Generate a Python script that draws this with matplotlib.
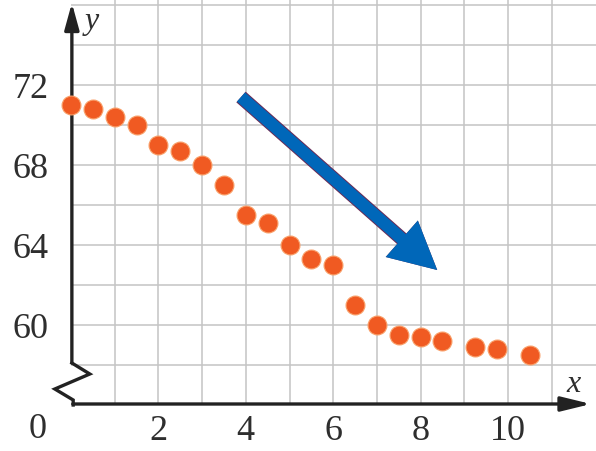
import matplotlib
matplotlib.use("Agg")
import matplotlib.pyplot as plt

# ---- data ----
x_vals = [0, 0.5, 1, 1.5, 2, 2.5, 3, 3.5, 4, 4.5, 5, 5.5, 6, 6.5, 7, 7.5, 8, 8.5, 9.25, 9.75, 10.5]
y_vals = [71.0, 70.8, 70.4, 70.0, 69.0, 68.7, 68.0, 67.0, 65.5, 65.1, 64.0, 63.3, 63.0, 61.0,
          60.0, 59.5, 59.4, 59.2, 58.9, 58.8, 58.5]
x_ticks = [2, 4, 6, 8, 10]
x_tick_labels = ["2", "4", "6", "8", "10"]
y_ticks = [60, 64, 68, 72]
y_tick_labels = ["60", "64", "68", "72"]
x_grid = [1, 2, 3, 4, 5, 6, 7, 8, 9, 10, 11]
y_grid = [58, 60, 62, 64, 66, 68, 70, 72, 74, 76]

# trend arrow (start / tip)
trend_start = (3.89, 71.4)
trend_end = (8.38, 62.75)

# axis break zigzag
zig_x = [0.02, 0.43, -0.37, 0.05, 0.05]
zig_y = [58.1, 57.55, 56.8, 56.25, 56.0]

serif = ["Liberation Serif", "DejaVu Serif"]
axis_col = "#222222"
dot_col = "#f05a22"
blue = "#0067b9"
text_col = "#2e2e2e"

fig = plt.figure(figsize=(5.96, 4.51), dpi=100)
fig.patch.set_facecolor("white")
ax = fig.add_axes([71 / 596, 46 / 451, 525 / 596, 405 / 451])
ax.set_xlim(0, 525 / 43.7)
ax.set_ylim(56, 56 + 405 / 20)
for s in ax.spines.values():
    s.set_visible(False)

# grid
for gx in x_grid:
    ax.axvline(gx, color="#c4c4c4", lw=1.1, zorder=1)
for gy in y_grid:
    ax.axhline(gy, color="#c4c4c4", lw=1.1, zorder=1)

# ticks
ax.set_xticks(x_ticks)
ax.set_xticklabels(x_tick_labels)
ax.set_yticks(y_ticks)
ax.set_yticklabels(y_tick_labels)
ax.tick_params(length=0, labelsize=26, colors=text_col)
ax.tick_params(axis="y", pad=16)
ax.tick_params(axis="x", pad=7)
for lab in ax.get_xticklabels() + ax.get_yticklabels():
    lab.set_family(serif)

ax.text(-0.755, 55.6, "0", fontsize=26, family=serif,
        color=text_col, ha="center", va="top")

# axes lines
ax.plot(zig_x, zig_y, color=axis_col, lw=2.4, clip_on=False, zorder=5,
        solid_joinstyle="miter")
ax.annotate("", xy=(0.02, 76.1), xytext=(0.02, 58.1),
            arrowprops=dict(arrowstyle="-|>,head_length=0.8,head_width=0.22",
                            lw=2.4, color=axis_col, mutation_scale=20,
                            shrinkA=0, shrinkB=0), annotation_clip=False, zorder=5)
ax.annotate("", xy=(11.9, 56.05), xytext=(0.04, 56.05),
            arrowprops=dict(arrowstyle="-|>,head_length=0.9,head_width=0.22",
                            lw=2.4, color=axis_col, mutation_scale=20,
                            shrinkA=0, shrinkB=0), annotation_clip=False, zorder=5)

ax.text(0.48, 75.2, "y", fontsize=23, family=serif, style="italic", color=text_col,
        ha="center", va="center")
ax.text(11.49, 57.05, "x", fontsize=23, family=serif, style="italic", color=text_col,
        ha="center", va="center")

# data points
ax.scatter(x_vals, y_vals, s=185, color=dot_col, edgecolor="#f9a06a", linewidth=0.8,
           zorder=6, clip_on=False)

# trend arrow with thin dark outline on the shaft
ax.annotate("", xy=trend_end, xytext=trend_start,
            arrowprops=dict(arrowstyle="simple,head_length=34,head_width=35,tail_width=10.2",
                            color="#6a2a55", mutation_scale=1, shrinkA=0, shrinkB=0, lw=0),
            zorder=7)
ax.annotate("", xy=trend_end, xytext=trend_start,
            arrowprops=dict(arrowstyle="simple,head_length=34,head_width=35,tail_width=8.8",
                            color=blue, mutation_scale=1, shrinkA=0, shrinkB=0, lw=0),
            zorder=8)

fig.savefig("out.png", dpi=100, facecolor="white")
